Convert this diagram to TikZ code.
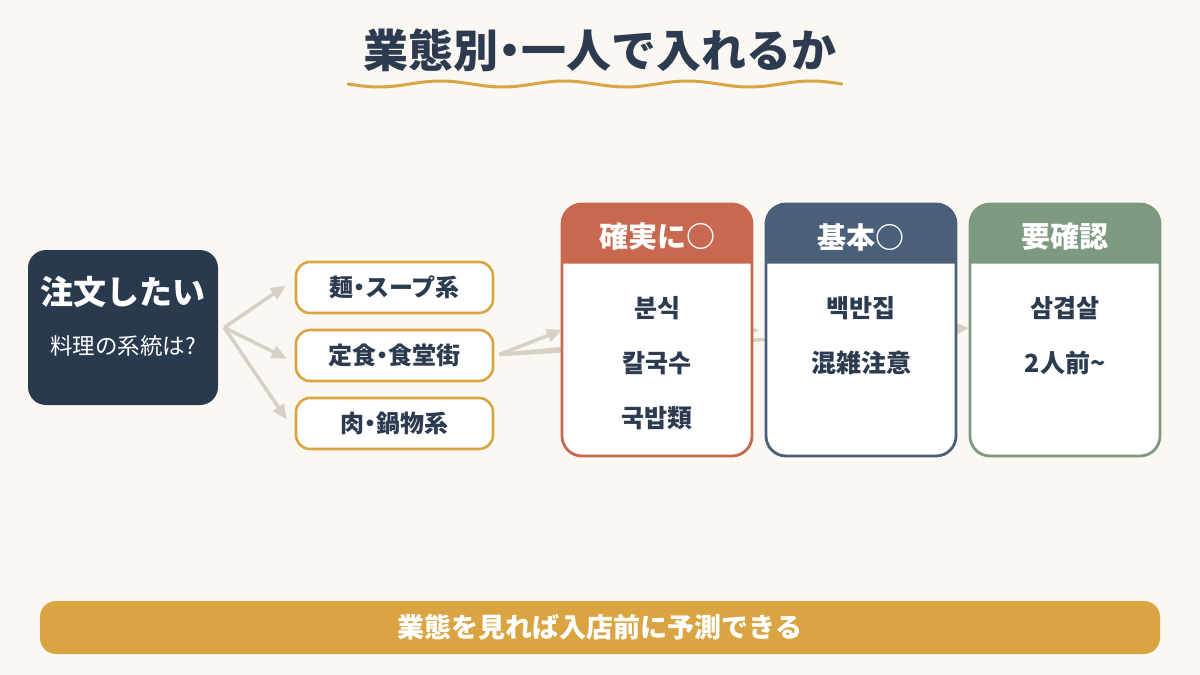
\documentclass[tikz,border=0pt]{standalone}
\usepackage{fontspec}
\setmainfont{Noto Sans CJK JP}
\newfontfamily\medf{Noto Sans CJK JP Medium}
\usetikzlibrary{arrows.meta,positioning}
\definecolor{bg}{HTML}{FBF7F2}
\definecolor{navy}{HTML}{2A3A4E}
\definecolor{ink}{HTML}{2C3B4F}
\definecolor{gold}{HTML}{D9A441}
\definecolor{cred}{HTML}{C8694F}
\definecolor{cblue}{HTML}{4A5F78}
\definecolor{cgreen}{HTML}{7D9A80}
\definecolor{arrowc}{HTML}{D8D0C6}
\newcommand{\fsz}[1]{\fontsize{#1}{#1}\selectfont}
\newcommand{\nd}{\makebox[0.5em]{・}}
\tikzset{
  arr/.style={draw=arrowc, line width=3.5pt, -{Triangle[length=15pt,width=13pt]}},
  pill/.style={draw=gold, line width=2.6pt, fill=white, rounded corners=14pt,
    minimum width=197pt, minimum height=51pt, inner sep=0pt,
    font=\fsz{24}\bfseries, text=ink},
  card/.style={draw=#1, line width=2.8pt, fill=white, rounded corners=20pt,
    minimum width=190pt, minimum height=252pt, inner sep=0pt},
  hdr/.style={text=white, font=\fsz{29}\bfseries, inner sep=0pt},
  body/.style={text=ink, font=\fsz{25}\bfseries, inner sep=0pt},
}
\newcommand{\cardhdr}[2]{%
  \fill[#2] ([xshift=1pt,yshift=-61pt]#1.north west) [rounded corners=19pt]-- ([xshift=1pt,yshift=-1pt]#1.north west)
    -- ([xshift=-1pt,yshift=-1pt]#1.north east) [sharp corners]-- ([xshift=-1pt,yshift=-61pt]#1.north east) -- cycle;}
\begin{document}
\begin{tikzpicture}[x=1pt,y=-1pt]
\useasboundingbox (0,0) rectangle (1200,675);
\fill[bg] (0,0) rectangle (1200,675);
% title
\node[text=ink, font=\fsz{45}\bfseries, inner sep=0pt] (title) at (600,50) {業態別\nd 一人で入れるか};
\draw[gold, line width=3pt, line cap=round] plot[domain=348:842, samples=120]
  (\x, {84 + 3*sin((\x-348)/123.5*360)});
% left box
\node[fill=navy, rounded corners=18pt, minimum width=190pt, minimum height=155pt] (src) at (123,327.5) {};
\node[text=white, font=\fsz{33}\bfseries, inner sep=0pt] (srct) at (123,292) {注文したい};
\node[text=white, font=\fsz{22.5}, inner sep=0pt] (srcs) at (123,346) {料理の系統は?};
% pills
\node[pill] (p1) at (394.5,287.5) {麺\nd スープ系};
\node[pill] (p2) at (394.5,355.5) {定食\nd 食堂街};
\node[pill] (p3) at (394.5,423.5) {肉\nd 鍋物系};
\coordinate (s0) at ([xshift=6pt]src.east);
\draw[arr] (s0) -- ([xshift=-9pt,yshift=2pt]p1.west);
\draw[arr] (s0) -- ([xshift=-8pt,yshift=-3pt]p2.west);
\draw[arr] (s0) -- ([xshift=-8pt,yshift=4pt]p3.west);
% cards coordinates
\coordinate (cr) at (657,330);
\coordinate (cb) at (861,330);
\coordinate (cg) at (1065,330);
\coordinate (s1) at ([xshift=5pt,yshift=1pt]p2.east);
\draw[arr] (s1) -- ([xshift=-102pt]cb.center);
\draw[arr] (s1) -- ([xshift=-96pt,yshift=2pt]cg);
\draw[arr] (s1) -- ([xshift=-95pt]cr);
% cards
\node[card=cred] (c1) at (cr) {};
\node[card=cblue] (c2) at (cb) {};
\node[card=cgreen] (c3) at (cg) {};
\cardhdr{c1}{cred}
\cardhdr{c2}{cblue}
\cardhdr{c3}{cgreen}
\node[hdr] (h1) at (657,237) {確実に○};
\node[hdr] (h2) at (861,237) {基本○};
\node[hdr] (h3) at (1065,237) {要確認};
\node[body] (b11) at (657,308) {분식};
\node[body] (b12) at (657,363) {칼국수};
\node[body] (b13) at (657,418) {국밥類};
\node[body] (b21) at (861,308) {백반집};
\node[body] (b22) at (861,363) {混雑注意};
\node[body] (b31) at (1065,308) {삼겹살};
\node[body] (b32) at (1065,363) {2人前\textasciitilde};
% bottom bar
\node[fill=gold, rounded corners=16pt, minimum width=1120pt, minimum height=53pt,
  text=white, font=\fsz{27}\bfseries] (bar) at (600,627.5) {業態を見れば入店前に予測できる};
\end{tikzpicture}
\end{document}
